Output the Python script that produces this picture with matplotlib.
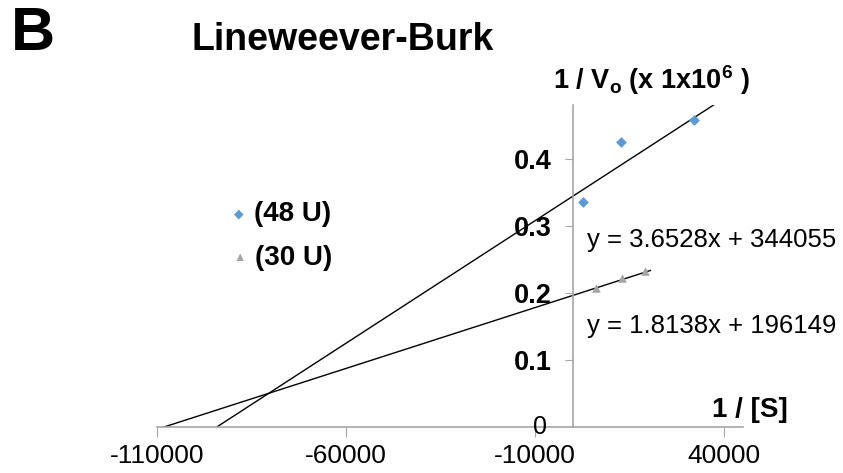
import numpy as np
import matplotlib.pyplot as plt

plt.rcParams['font.family'] = ['Liberation Sans', 'DejaVu Sans']

# data (1/[S], 1/Vo x 1e6)
x_48 = [2600, 12700, 32000]
y_48 = [0.336, 0.425, 0.457]
x_30 = [6100, 13000, 19000]
y_30 = [0.207, 0.222, 0.233]

# trendlines
slope_48, icpt_48 = 3.6528, 344055
slope_30, icpt_30 = 1.8138, 196149
line_48_x = [-icpt_48 / slope_48, 39000]
line_30_x = [-icpt_30 / slope_30, 20500]

xticks = [-110000, -60000, -10000, 40000]
yticks = [0.1, 0.2, 0.3, 0.4]

fig = plt.figure(figsize=(8.43, 4.73), dpi=100)
ax = fig.add_axes([157/843, 46/473, (743-157)/843, 322/473])

for lx, m, b in [(line_48_x, slope_48, icpt_48), (line_30_x, slope_30, icpt_30)]:
    lx = np.array(lx)
    ax.plot(lx, (m * lx + b) / 1e6, color='black', lw=1.0, zorder=2)

ax.scatter(x_48, y_48, marker='D', s=30, color='#5B9BD5', zorder=3, linewidths=0)
ax.scatter(x_30, y_30, marker='^', s=38, color='#A5A5A5', zorder=3, linewidths=0)

ax.set_xlim(-110000, 45000)
ax.set_ylim(0, 0.48)
ax.spines['top'].set_visible(False)
ax.spines['right'].set_visible(False)
ax.spines['left'].set_position(('data', 0))
for s in ['left', 'bottom']:
    ax.spines[s].set_color('#a6a6a6')
    ax.spines[s].set_linewidth(1.2)

ax.set_xticks(xticks)
ax.set_xticklabels([str(v) for v in xticks], fontsize=19)
ax.tick_params(axis='x', direction='out', length=7, color='#a6a6a6', pad=5)
ax.set_yticks(yticks)
ax.set_yticklabels([f'{v:.1f}' for v in yticks], fontsize=19.5, fontweight='bold')
ax.tick_params(axis='y', direction='out', length=6, color='#a6a6a6', pad=9)
ax.text(-6800, 0, '0', fontsize=18, ha='right', va='center')

# labels
fig.text(11/843, 1 - 34/473, 'B', fontsize=44, fontweight='bold', va='center', ha='left')
fig.text(192/843, 1 - 40/473, 'Lineweever-Burk', fontsize=27, fontweight='bold', va='center')
fig.text(553/843, 1 - 80/473, r'1 / V$_\mathregular{o}$ (x 1x10$^\mathregular{6}$ )', fontsize=19.5,
         fontweight='bold', va='center')
fig.text(712/843, 1 - 410/473, '1 / [S]', fontsize=20, fontweight='bold', va='center')
fig.text(587/843, 1 - 240/473, f'y = {slope_48}x + {icpt_48}', fontsize=18.5, va='center')
fig.text(587/843, 1 - 326/473, f'y = {slope_30}x + {icpt_30}', fontsize=18.5, va='center')

# legend
fig.text(239/843, 1 - 214/473, '◆', color='#5B9BD5', fontsize=9, va='center', ha='center')
fig.text(254/843, 1 - 214/473, '(48 U)', fontsize=20, fontweight='bold', va='center')
fig.text(240/843, 1 - 258/473, '▲', color='#A5A5A5', fontsize=9, va='center', ha='center')
fig.text(255/843, 1 - 258/473, '(30 U)', fontsize=20, fontweight='bold', va='center')

fig.savefig('out.png', dpi=100)
